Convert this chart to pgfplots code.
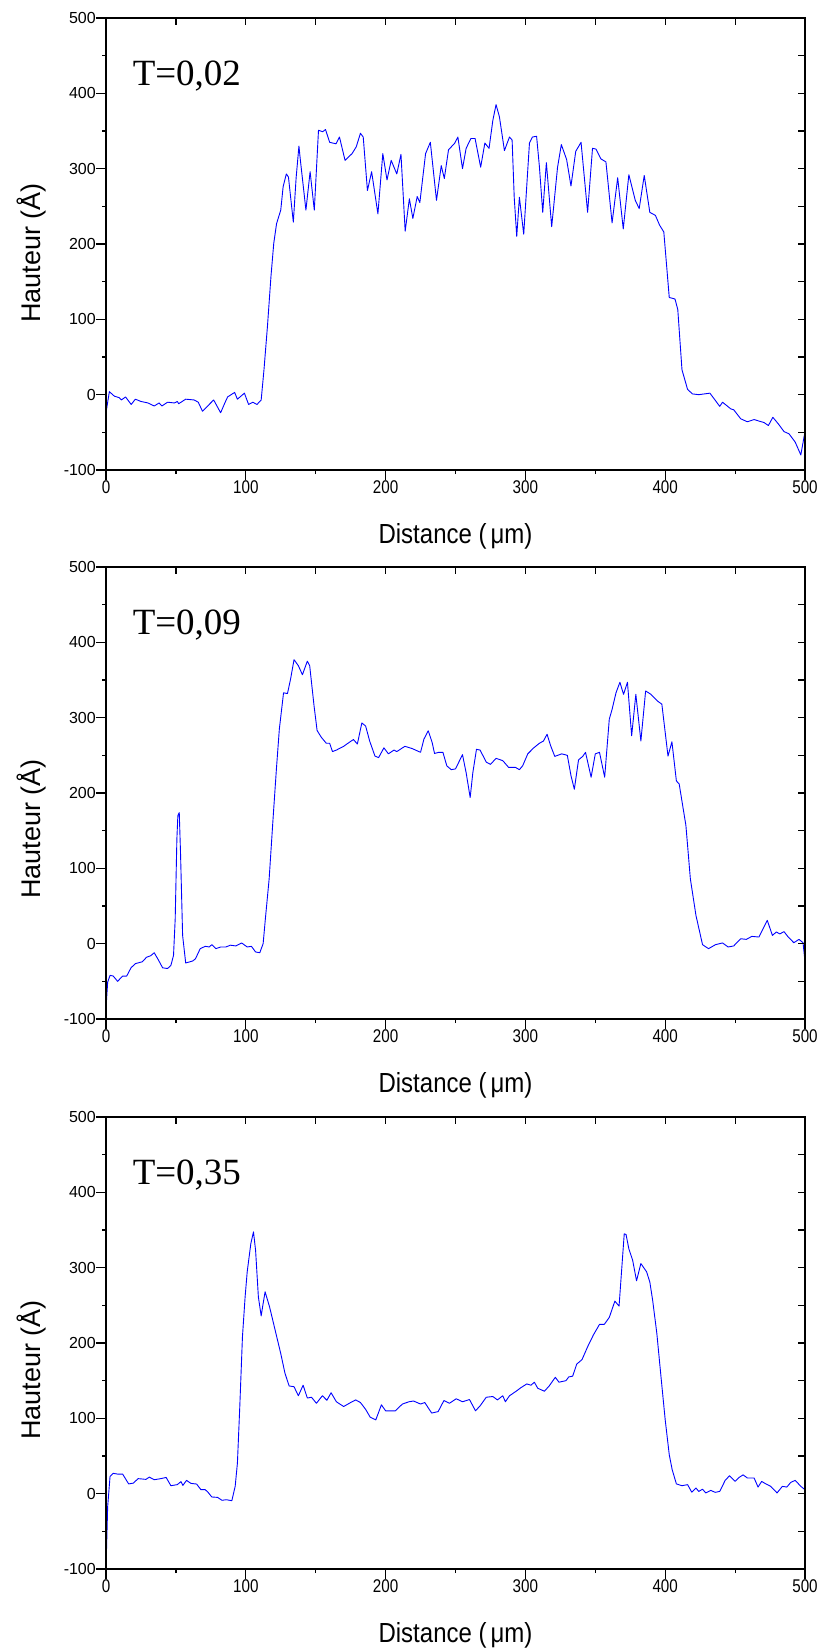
\documentclass[border=0pt]{standalone}
\usepackage{fontspec}
\setmainfont{Liberation Sans}
\newfontfamily\seriffont{Liberation Serif}
\usepackage{graphicx}
\usepackage{pgfplots}
\pgfplotsset{compat=1.18}
\definecolor{curve}{RGB}{0,0,255}

\pgfplotstableread{
x y
0 -24
2.4 4
6 -2
9.5 -4
11 -7
14 -3
18 -13
21 -6
25 -9
30 -11
34.5 -15
38 -11
40 -15
44 -10
49 -11
51 -9
52 -12
57 -6
63 -7
66 -10
69 -22
77 -7
82 -24
85 -11
87 -3
92 3
94 -6
99 2
102 -13
105 -10
108 -13
111 -7
113 33
115.5 91
118 157
120 201
122 227
125 245
126.7 276
129 293
130.5 289
134 229
136 288
138 330
139 312
143 245
146 296
149 245
152 351
155 349
157 352
160 335
164.5 333
167 342
171 311
176 320
179 329
182 347
184 342
187 271
190 296
194.5 240
198 320
201 285
204 311
208 293
211 319
214 217
217 260
219.5 234
222.6 263
224.5 255
228.6 320
232 335
236.4 258
239.8 304
242 287
245 325
249.5 334
251.7 342
255 300
257.6 327
261 340
264 340
268 302
271 334
274 327
276.7 364
279 385
281.4 369
285 324
288.6 342
290.5 338
292 262
293.8 210
295.7 262
298.8 213
302.9 334
305 342
308 343
310 303
312.4 242
315 308
318.8 223
323 302
325.7 332
329.5 312
332.6 277
336 323
339.8 335
344.5 242
348 327
350.5 326
354 313
357.6 309
362 228
366 288
370 220
374 292
378.6 258
381.4 247
385 291
389 242
393 238
396 225
399 216
402.9 129
407 127
409 113
412 33
416 7
419.5 1
424 0
432 2
439 -15.5
441 -10
447 -19
449 -20
454 -32
458.8 -36
463.6 -33
467 -35
470.7 -37
473.8 -41
477 -30
481 -39
485 -49
488.6 -52
493 -63
497 -80
500 -49
}\dataA

\pgfplotstableread{
x y
0 -86
1.2 -51
2.9 -42
5.2 -43
8.3 -50
11.9 -43
14.8 -43
17.9 -32
21 -26.5
26 -24
29 -18
32 -16
34.5 -12
37.6 -22
40.5 -32
44 -33
46.4 -29
48.3 -15.5
49.5 33
50.7 139
51.4 170
52.4 174
53.3 121
54.8 11
57 -25.6
62 -23
64 -20
67.4 -6.6
71 -3.5
73.8 -4.4
75.7 -1.3
78.6 -6.6
82 -4.4
85.7 -4.4
89 -2
92.9 -3
97 1
101 -4.4
104 -3.5
107 -11
110 -12
112.4 0
114 33
116.7 86
119.5 166
121.9 232
124 285
127 333
129.8 332
132 351
134.5 377
137.6 369
140.5 357
144 375
145.7 369
148.8 316
151 283
154 274
157.6 266
160 266
162 255
164.8 257
170 262
173.8 267
177 271
179.8 265
183 293
185.7 289
188.6 269
192.4 249
195 247
198.8 260
202 252
206 257
208 255
213.8 262
219 259
225 254
227.4 271.5
230.5 282.6
233.3 267
235 252.5
238 254
241 254
243.8 236
247 231
250 232
255 251
257.6 227
260.5 194
262.4 227
265 258
267.6 257
272 241
275 238
279 246
283.8 243
288 234
292.9 234
295.7 231
298 236
301.7 252
306 260
310 266
312.9 269
315.5 278
318 263
321 248.6
326 252
330 250
332.6 223
335 205
338 244
341 248.6
343 254
347 221
350 252
353 254
356.7 221
360 298
362 311
364.8 333
367.6 347
370.2 331
373 347
376 276
379 331
382.6 269
386 335.5
389.8 331
394.5 322
397.6 318
402 249
404.8 268
408 216
410 212
414.8 157
418 86
422 37.5
426.7 -1.3
431 -6.6
436 -1.3
441 1
445 -4.4
449 -3
454 6.6
458 5.7
462 9.7
467 8.8
473 31
476.7 11
479.5 15.5
482 13
485 16
488 8.8
492 1.3
495.7 5.7
498.6 1.3
500 -24
}\dataB

\pgfplotstableread{
x y
0 -100
1.2 -17
2.9 23
5.2 27
8.3 26
11.9 26
16.2 13
19.5 14
23 20
28.6 19
31 22
34.5 18.5
39.3 20
43 21.6
46.4 10.6
51 12
53.6 16
55 11
57.6 17.7
60.7 13.7
64.8 12.8
67.9 5.3
71 5.3
73 1.8
75.7 -4.4
79.8 -4.9
83 -8.8
86 -8
90 -9.3
92.4 9.7
94 40.6
95.7 115.7
97.6 208
99.5 261
101 294.5
103.6 332
105.5 347.5
107 323
109 261
111 236
112.4 252.5
113.8 268
117 248
121 217
125 186
128 160
131 143
134.5 142
137.6 130
141 144
144 127
147 128
150.5 120
154.8 130
158 124
161 134
164.8 122
170 115.7
175 121
178.6 124.5
182 121
185.7 112
189 101.5
193 98
197 118
200 110
207 110
212 119
216.7 122
220 123
225 119
228 121
233 107
237.6 109
241.7 123.6
245.7 120
250.5 126
255 122
260 125
264.3 110
267.6 116.6
272 128
276.7 129
280 124.5
283.8 130
285.7 122
288.6 130
293 135.5
297 141
301 145.7
304 144
306.4 148
308.8 140
313.6 136
317 143
321.4 154.5
324 148
329 150
331 155
333.8 156
336.7 172
340.5 178
344.5 195
348.6 210.6
353 224.7
356.4 224.7
360 234
364 255.6
367 249
369 301
370.7 345
372 344
374 325
376.7 310
379.5 282.6
382.6 305.5
386.7 294.5
389 281
391 257
394 213
397 155
400 98
402.9 51.7
405 31.8
408 13
412 10.6
416 12
419 2
422 7.5
424 3
426.7 6
429 1
432.6 4.4
435.7 1.8
439 3
442.9 17.7
446 23.8
450 16.3
452.9 21.6
455.7 25
458.8 20.8
463.6 20.8
466.4 8.8
469 16.3
472 13
475.5 9.7
480 1
483.8 9.7
487 8.8
489.8 15
493 17.7
497 9.7
500 5.3
}\dataC

\pgfplotsset{
  panelbase/.style={
    scale only axis, width=699pt, height=452pt, anchor=south west,
    xmin=0, xmax=500, ymin=-100, ymax=500,
    axis line style={line width=1.3pt},
    every tick/.style={black, line width=1.2pt},
  },
  panel/.style={
    panelbase,
    tick align=outside, xtick pos=left, ytick pos=left,
    xtick={0,100,...,500}, minor xtick={50,150,...,450},
    ytick={-100,0,...,500}, minor ytick={-50,50,...,450},
    major tick length=10pt, minor tick length=4pt,
    /pgf/number format/assume math mode=true,
    yticklabel style={font=\fontsize{16}{16}\selectfont, anchor=east, inner sep=0pt},
    xticklabel style={font=\fontsize{16}{16}\selectfont, anchor=north, inner sep=0pt},
    xticklabel={\scalebox{0.95}[1.15]{\pgfmathprintnumber{\tick}}},
    xlabel={\scalebox{1}[1.15]{Distance (\,μm)}},
    xlabel style={at={(axis description cs:0.5,0)}, anchor=base, yshift=-73pt,
      font=\fontsize{24}{24}\selectfont, inner sep=0pt},
    ylabel={Hauteur (Å)},
    ylabel style={font=\fontsize{27}{27}\selectfont, inner sep=0pt, anchor=center},
  },
  frameover/.style={
    panelbase,
    tick align=inside, xtick pos=right, ytick pos=right,
    xtick={0,50,...,500}, ytick={-100,-50,...,500},
    major tick length=7pt,
    xticklabel={\phantom{0}}, yticklabel={\phantom{0}},
  },
}
\tikzset{annot/.style={anchor=base west, inner sep=0pt, font=\seriffont\fontsize{37}{37}\selectfont}}

\begin{document}
\begin{tikzpicture}
% Panel 1
\begin{axis}[panel, at={(106pt,-470pt)},
  ylabel style={at={(axis description cs:-0.107,0.48)}}]
  \addplot[curve, line width=0.9pt, line join=round] table[x=x,y=y] {\dataA};
  \node[annot] at (axis cs:19,410) {T=0,02};
\end{axis}
\begin{axis}[frameover, at={(106pt,-470pt)}]
\end{axis}
% Panel 2
\begin{axis}[panel, at={(106pt,-1019pt)},
  ylabel style={at={(axis description cs:-0.107,0.42)}}]
  \addplot[curve, line width=0.9pt, line join=round] table[x=x,y=y] {\dataB};
  \node[annot] at (axis cs:19,410) {T=0,09};
\end{axis}
\begin{axis}[frameover, at={(106pt,-1019pt)}]
\end{axis}
% Panel 3
\begin{axis}[panel, at={(106pt,-1569pt)},
  ylabel style={at={(axis description cs:-0.107,0.44)}}]
  \addplot[curve, line width=0.9pt, line join=round] table[x=x,y=y] {\dataC};
  \node[annot] at (axis cs:19,410) {T=0,35};
\end{axis}
\begin{axis}[frameover, at={(106pt,-1569pt)}]
\end{axis}
\pgfresetboundingbox
\path[use as bounding box] (0pt,0pt) rectangle (822pt,-1649pt);
\end{tikzpicture}
\end{document}
